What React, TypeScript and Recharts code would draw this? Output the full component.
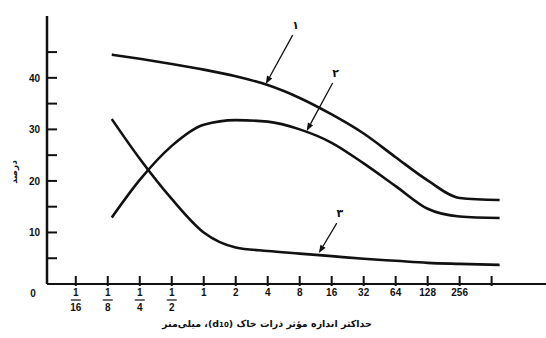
import { LineChart, Line, XAxis, YAxis, ReferenceLine } from 'recharts';

// grain size as log2(mm): -4 = 1/16 ... 8 = 256
const sizeLog2 = [-2.875, -2, -1, 0, 1, 2, 3, 4, 5, 6, 7, 8, 9.25];
const curve1 = [44.5, 43.7, 42.7, 41.6, 40.3, 38.6, 36.1, 32.9, 29.2, 24.6, 20.1, 16.7, 16.3];
const curve2 = [12.9, 20.2, 26.8, 30.9, 31.8, 31.5, 30.0, 27.4, 23.4, 19.0, 14.6, 13.1, 12.8];
const curve3 = [32.0, 24.3, 16.5, 10.0, 7.1, 6.4, 5.9, 5.4, 4.9, 4.5, 4.1, 3.9, 3.7];

const xTicks = [-4, -3, -2, -1, 0, 1, 2, 3, 4, 5, 6, 7, 8, 9];
const xTickLabels = ['1/16', '1/8', '1/4', '1/2', '1', '2', '4', '8', '16', '32', '64', '128', '256', ''];
const yTicks = [0, 5, 10, 15, 20, 25, 30, 35, 40, 45];
const yTickLabels = ['0', '', '10', '', '20', '', '30', '', '40', ''];

// curve number callouts
const calloutLabels = ['۱', '۲', '۳'];
const calloutFrom = [[2.78, 48.3], [4.03, 39.0], [4.16, 11.8]];
const calloutTo = [[1.94, 38.8], [3.22, 29.7], [3.6, 6.0]];

const data = sizeLog2.map((x, i) => ({ x, c1: curve1[i], c2: curve2[i], c3: curve3[i] }));

const FONT = '"Liberation Sans", Arial, sans-serif';
const INK = '#111';

const XTick = (props: any) => {
    const { x, y, index } = props;
    const label = xTickLabels[index] ?? '';
    const parts = label.split('/');
    return (
        <g>
            <line x1={x} y1={y - 8} x2={x} y2={y + 2} stroke={INK} strokeWidth={2} />
            {parts.length === 2 ? (
                <g fontFamily={FONT} fontSize={10} fontWeight="bold" fill={INK} textAnchor="middle">
                    <text x={x} y={y + 12}>{parts[0]}</text>
                    <line x1={x - 5} y1={y + 16} x2={x + 5} y2={y + 16} stroke={INK} strokeWidth={1.2} />
                    <text x={x} y={y + 27}>{parts[1]}</text>
                </g>
            ) : (
                <text x={x} y={y + 12} fontFamily={FONT} fontSize={10} fontWeight="bold" fill={INK} textAnchor="middle">
                    {label}
                </text>
            )}
        </g>
    );
};

const YTick = (props: any) => {
    const { x, y, index } = props;
    const label = yTickLabels[index] ?? '';
    if (label === '0') {
        return (
            <text x={x - 14} y={y + 13} fontFamily={FONT} fontSize={10} fontWeight="bold" fill={INK} textAnchor="middle">
                0
            </text>
        );
    }
    return (
        <g>
            <line x1={x} y1={y} x2={x + 10} y2={y} stroke={INK} strokeWidth={2} />
            {label && (
                <text x={x - 7} y={y + 4} fontFamily={FONT} fontSize={10} fontWeight="bold" fill={INK} textAnchor="end">
                    {label}
                </text>
            )}
        </g>
    );
};

const arrowShape = (label: string) => (props: any) => {
    const { x1, y1, x2, y2 } = props;
    const dx = x2 - x1;
    const dy = y2 - y1;
    const len = Math.sqrt(dx * dx + dy * dy) || 1;
    const ux = dx / len;
    const uy = dy / len;
    const hl = 8;
    const hw = 3;
    const bx = x2 - ux * hl;
    const by = y2 - uy * hl;
    return (
        <g>
            <line x1={x1} y1={y1} x2={bx} y2={by} stroke={INK} strokeWidth={1.3} />
            <polygon
                points={`${x2},${y2} ${bx - uy * hw},${by + ux * hw} ${bx + uy * hw},${by - ux * hw}`}
                fill={INK}
            />
            <text x={x1 + 3} y={y1 - 6} fontFamily={'"DejaVu Sans", sans-serif'} fontSize={11} fontWeight="bold" fill={INK} textAnchor="middle">
                {label}
            </text>
        </g>
    );
};

export default function App() {
    return (
        <div style={{ position: 'absolute', left: 0, top: 0, width: 546, height: 338, background: '#fff' }}>
            <LineChart width={546} height={338} data={data} margin={{ top: 16, right: 0, bottom: 0, left: 0 }}>
                <XAxis
                    type="number"
                    dataKey="x"
                    domain={[-4.9, 10.7]}
                    ticks={xTicks}
                    interval={0}
                    allowDataOverflow
                    tickSize={0}
                    tickMargin={0}
                    tickLine={false}
                    tick={<XTick />}
                    axisLine={{ stroke: INK, strokeWidth: 2 }}
                    height={54}
                />
                <YAxis
                    type="number"
                    domain={[0, 52]}
                    ticks={yTicks}
                    interval={0}
                    allowDataOverflow
                    width={47}
                    tickSize={0}
                    tickMargin={0}
                    tickLine={false}
                    tick={<YTick />}
                    axisLine={{ stroke: INK, strokeWidth: 2.5 }}
                />
                <Line type="monotone" dataKey="c1" stroke={INK} strokeWidth={2.6} dot={false} isAnimationActive={false} />
                <Line type="monotone" dataKey="c2" stroke={INK} strokeWidth={2.6} dot={false} isAnimationActive={false} />
                <Line type="monotone" dataKey="c3" stroke={INK} strokeWidth={2.6} dot={false} isAnimationActive={false} />
                {calloutLabels.map((label, i) => (
                    <ReferenceLine
                        key={label}
                        segment={[
                            { x: calloutFrom[i][0], y: calloutFrom[i][1] },
                            { x: calloutTo[i][0], y: calloutTo[i][1] },
                        ]}
                        ifOverflow="visible"
                        shape={arrowShape(label)}
                    />
                ))}
            </LineChart>
            <div
                style={{
                    position: 'absolute',
                    left: 2,
                    top: 172,
                    transform: 'translate(0, -50%) rotate(-90deg)',
                    transformOrigin: 'center',
                    fontFamily: '"DejaVu Sans", sans-serif',
                    fontSize: 9,
                    fontWeight: 'bold',
                    color: INK,
                    direction: 'rtl',
                }}
            >
                درصد
            </div>
            <div
                style={{
                    position: 'absolute',
                    left: 0,
                    width: 546,
                    top: 318,
                    textAlign: 'center',
                    fontFamily: '"DejaVu Sans", sans-serif',
                    fontSize: 9.5,
                    fontWeight: 'bold',
                    color: INK,
                    direction: 'rtl',
                }}
            >
                <span style={{ position: 'relative', left: -6 }}>
                    حداکثر اندازه مؤثر ذرات خاک (<span dir="ltr">d<span style={{ fontSize: 7 }}>10</span></span>)، میلی‌متر
                </span>
            </div>
        </div>
    );
}
